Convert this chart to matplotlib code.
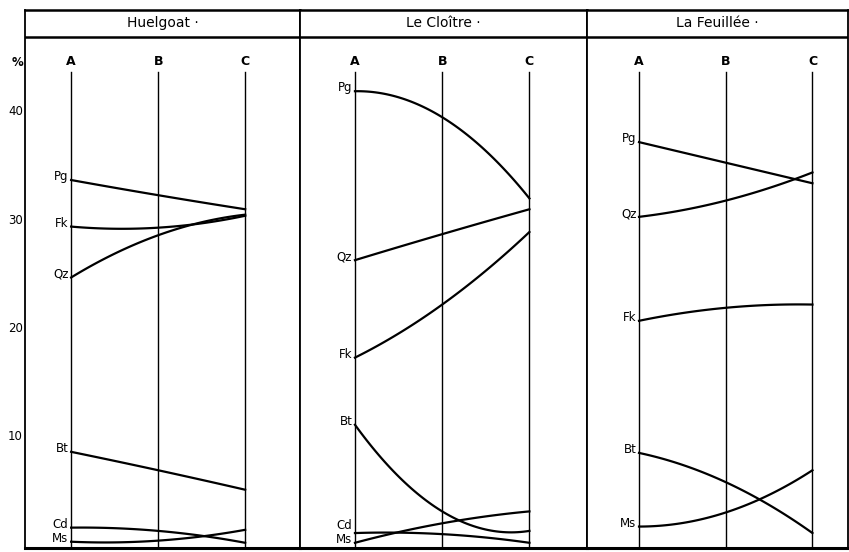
import numpy as np
import matplotlib
matplotlib.use('Agg')
import matplotlib.pyplot as plt

# Mineral percentages along the three profile points A, B, C
profile = ['A', 'B', 'C']
sites = ['Huelgoat ·', 'Le Cloître ·', 'La Feuillée ·']

huelgoat = {
    'Pg': [33.7, 32.3, 31.0],
    'Fk': [29.4, 29.3, 30.4],
    'Qz': [24.7, 28.6, 30.5],
    'Bt': [8.6, 6.9, 5.1],
    'Cd': [1.6, 1.3, 0.2],
    'Ms': [0.3, 0.4, 1.4],
}
le_cloitre = {
    'Pg': [41.9, 39.5, 32.0],
    'Qz': [26.3, 28.7, 31.0],
    'Fk': [17.3, 22.2, 28.9],
    'Bt': [11.1, 3.1, 1.3],
    'Cd': [1.1, 1.0, 0.2],
    'Ms': [0.2, 2.0, 3.1],
}
la_feuillee = {
    'Pg': [37.2, 35.3, 33.4],
    'Qz': [30.3, 31.8, 34.4],
    'Fk': [20.7, 21.9, 22.2],
    'Bt': [8.5, 5.8, 1.1],
    'Ms': [1.7, 3.0, 6.9],
}
y_ticks = [10, 20, 30, 40]

W, H = 849, 552
fig = plt.figure(figsize=(W / 100, H / 100), dpi=100)

# panel extents in pixels (left, right) and x-limits in profile units
panels = [(25, 300, -0.53, 2.63), (300, 587, -0.63, 2.66), (587, 848, -0.60, 2.41)]
top_px, bot_px = 10, 548
ymin, ymax = -0.28, 49.4
header_y = 46.9

for (l, r, x0, x1), name, data in zip(panels, sites, [huelgoat, le_cloitre, la_feuillee]):
    ax = fig.add_axes([l / W, (H - bot_px) / H, (r - l) / W, (bot_px - top_px) / H])
    ax.set_xlim(x0, x1)
    ax.set_ylim(ymin, ymax)
    ax.set_xticks([])
    ax.set_yticks([])
    for s in ax.spines.values():
        s.set_linewidth(1.3)
    ax.spines['bottom'].set_linewidth(2.2)
    ax.spines['top'].set_linewidth(1.8)
    ax.axhline(header_y, color='black', lw=1.8)
    ax.text((x0 + x1) / 2, 48.2, name, ha='center', va='center', fontsize=10)

    for i, p in enumerate(profile):
        ax.plot([i, i], [ymin, 43.7], color='black', lw=1.0)
        ax.text(i, 44.6, p, ha='center', va='center', fontsize=9, fontweight='bold')

    xs = np.linspace(0, 2, 60)
    label_ys = {k: v[0] + 0.3 for k, v in data.items()}
    # keep the Cd / Ms labels apart when their start values are close
    if 'Cd' in data and 'Ms' in data and label_ys['Cd'] - label_ys['Ms'] < 1.3:
        label_ys['Cd'] = label_ys['Ms'] + 1.3
    for label, vals in data.items():
        coef = np.polyfit([0, 1, 2], vals, 2)
        ax.plot(xs, np.polyval(coef, xs), color='black', lw=1.6)
        ax.text(-0.03, label_ys[label], label, ha='right', va='center', fontsize=8.5)

# y-axis labels at the left border
fig.text(17 / W, 1 - 63 / H, '%', ha='center', va='center', fontsize=8.5, fontweight='bold')
for t in y_ticks:
    ypx = 545 - 10.83 * t
    fig.text(23 / W, 1 - ypx / H, str(t), ha='right', va='center', fontsize=8.5)

fig.savefig('out.png', dpi=100)
